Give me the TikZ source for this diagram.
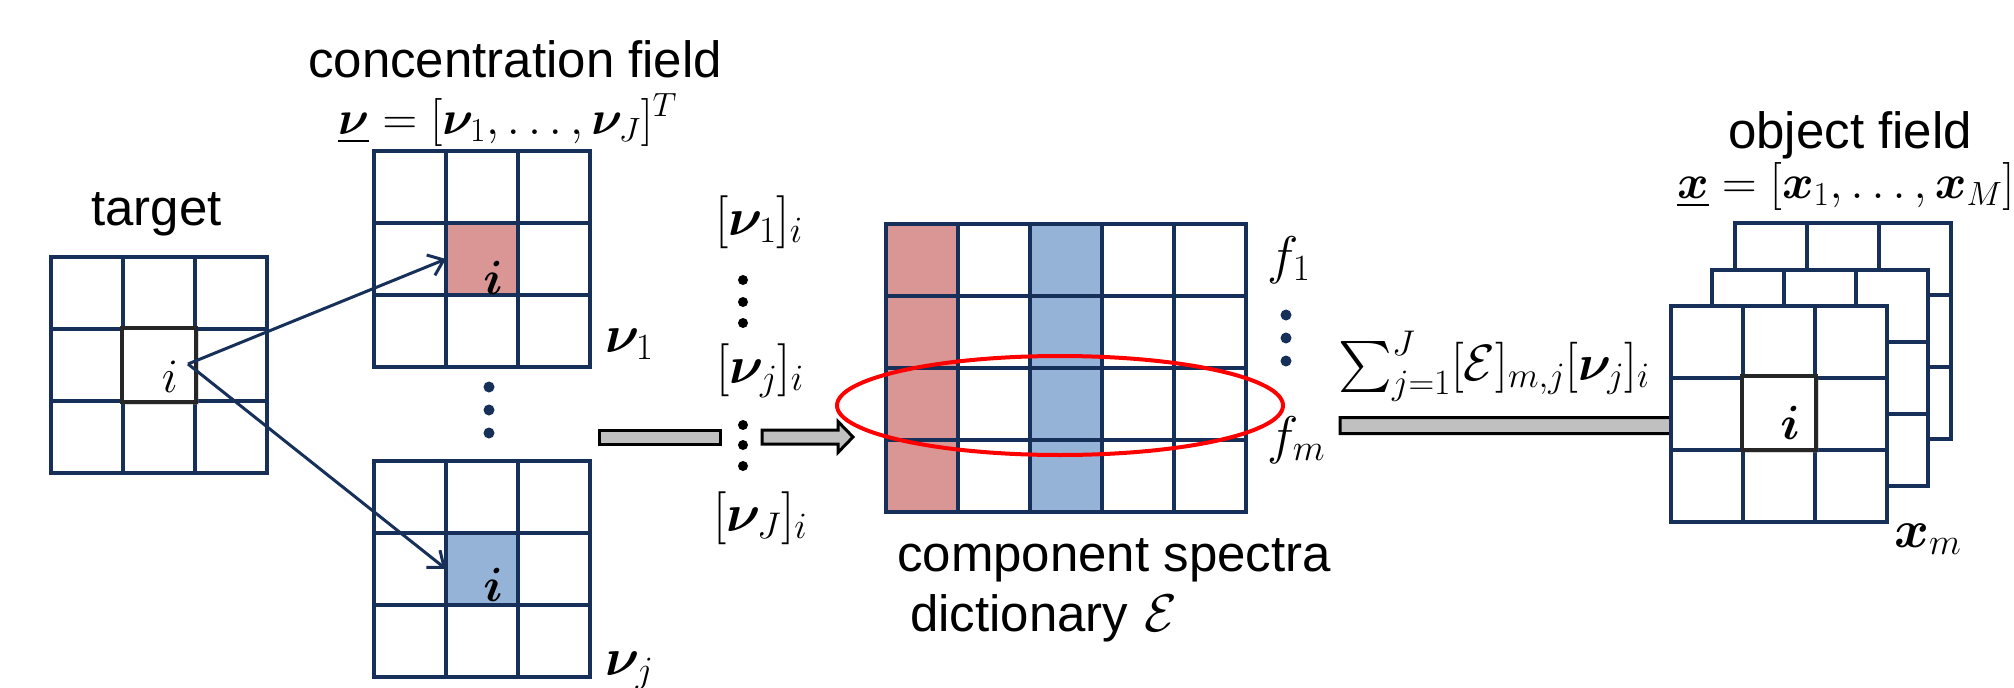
\RequirePackage{fix-cm}
\documentclass[tikz,border=0pt]{standalone}
\usepackage{amsmath,bm}
\usepackage[no-math]{fontspec}
\DeclareFontShape{OMX}{cmex}{m}{n}{<->cmex10}{}
\newfontfamily\arial{Liberation Sans}
\usetikzlibrary{arrows.meta,calc,shadows}
\definecolor{navy}{HTML}{17305A}
\definecolor{redf}{HTML}{D99694}
\definecolor{bluef}{HTML}{95B3D7}
\definecolor{grayf}{HTML}{C0C0C0}
\tikzset{
 gcell/.style={draw=navy, line width=3.2pt, minimum size=72pt, inner sep=0pt, outer sep=0pt},
 lbl/.style={font=\arial\fontsize{51}{60}\selectfont, inner sep=0pt, anchor=base west},
 mth/.style={font=\fontsize{53}{60}\selectfont, inner sep=0pt, anchor=base west},
 mths/.style={font=\fontsize{48}{56}\selectfont, inner sep=0pt, anchor=base west},
 ilbl/.style={font=\fontsize{48}{56}\selectfont, inner sep=0pt},
 conn/.style={draw=navy, line width=3pt, -{Straight Barb[length=14pt,width=22pt,line width=3pt]}},
 blk/.style={draw=black, line width=3pt, fill=grayf, line join=miter},
 hl/.style={draw=black!85, line width=4pt, minimum size=74pt, inner sep=0pt, fill=white,
   drop shadow={shadow xshift=3pt, shadow yshift=-3pt, opacity=0.3}},
 dotn/.style={circle, fill=navy, inner sep=0pt, minimum size=11pt},
}
\newcommand{\gridcells}[5]{%
  \foreach \r in {1,...,#5}{\foreach \c in {1,...,#4}{%
    \node[gcell] (#1-\r-\c) at ({#2+36+72*(\c-1)},{#3+36+72*(\r-1)}) {};}}}
\begin{document}
\begin{tikzpicture}[x=1pt,y=-1pt]
\useasboundingbox (0,0) rectangle (2014,688);
\fill[white] (0,0) rectangle (2014,688);

% ---- labels ----
\node[lbl] (tlab) at (91,225) {target};
\node[lbl] (cflab) at (308,77) {concentration field};
\node[lbl] (cslab) at (897,571) {component spectra};
\node[lbl] (dlab) at (910,631) {dictionary\hspace{16pt}{\fontsize{53}{60}\selectfont$\mathcal{E}$}};
\node[lbl] (oflab) at (1728,148) {object field};

% ---- target grid ----
\gridcells{t}{51}{257}{3}{3}
\node[hl] (thl) at (158.5,364.5) {};
\node[ilbl] (ti) at (170,377) {$i$};
\coordinate (tsrc) at (188,364);

% ---- concentration grids ----
\node[mths] (nuform) at (338,134) {$\underline{\bm{\nu}}=[\bm{\nu}_1,\ldots,\bm{\nu}_J]^T$};
\fill[redf] (446,223) rectangle (518,295);
\gridcells{nua}{374}{151}{3}{3}
\node[ilbl] (ri) at (493,278) {$\bm{i}$};
\node[mth] (nu1l) at (605,352) {$\bm{\nu}_1$};

\node[dotn] (gd1) at (489,387) {};
\node[dotn] (gd2) at (489,410) {};
\node[dotn] (gd3) at (489,433) {};

\fill[bluef] (446,533) rectangle (518,605);
\gridcells{nub}{374}{461}{3}{3}
\node[ilbl] (bi) at (493,585) {$\bm{i}$};
\node[mth] (nujl) at (605,675) {$\bm{\nu}_j$};

\draw[conn] (tsrc) -- (nua-2-2.west);
\draw[conn] (tsrc) -- (nub-2-2.west);

% ---- column of entries ----
\node[mth] (nu1i) at (715,235) {$[\bm{\nu}_1]_i$};
\node[mth] (nuji) at (716,383) {$[\bm{\nu}_j]_i$};
\node[mth] (nuJi) at (713,531) {$[\bm{\nu}_J]_i$};
\node[dotn, fill=black, minimum size=10pt] (cd1) at (743,280) {};
\node[dotn, fill=black, minimum size=10pt] (cd2) at (743,302) {};
\node[dotn, fill=black, minimum size=10pt] (cd3) at (743,323) {};
\node[dotn, fill=black, minimum size=10pt] (cd4) at (743,425) {};
\node[dotn, fill=black, minimum size=10pt] (cd5) at (743,445) {};
\node[dotn, fill=black, minimum size=10pt] (cd6) at (743,466) {};

% ---- block arrow 1 ----
\coordinate (a1s) at (599,437);
\coordinate (a1m) at (720,437);
\coordinate (a1r) at (762,437);
\coordinate (a1e) at (853,437);
\draw[blk] ($(a1s)+(0,-7)$) rectangle ($(a1m)+(0,7)$);
\draw[blk] ($(a1r)+(0,-7)$) -- ($(a1e)+(-15,-7)$) -- ($(a1e)+(-15,-15.5)$) -- (a1e)
  -- ($(a1e)+(-15,15.5)$) -- ($(a1e)+(-15,7)$) -- ($(a1r)+(0,7)$) -- cycle;

% ---- dictionary ----
\fill[redf] (886,224) rectangle (958,512);
\fill[bluef] (1030,224) rectangle (1102,512);
\gridcells{d}{886}{224}{5}{4}
\draw[red, line width=4pt] (1060,405.5) ellipse [x radius=223, y radius=49.5];
\node[mth] (f1) at (1267,273) {$f_1$};
\node[mth] (fm) at (1267,453) {$f_m$};
\node[dotn] (fd1) at (1286,315) {};
\node[dotn] (fd2) at (1286,338) {};
\node[dotn] (fd3) at (1286,361) {};

% ---- block arrow 2 ----
\node[mth, font=\fontsize{51}{60}\selectfont] (sum) at (1338,380) {$\sum_{j=1}^J[\mathcal{E}]_{m,j}[\bm{\nu}_j]_i$};
\coordinate (a2s) at (1340,425.5);
\coordinate (a2e) at (1725,425.5);
\draw[blk] ($(a2s)+(0,-8)$) -- ($(a2e)+(-17,-8)$) -- ($(a2e)+(-17,-16)$) -- (a2e)
  -- ($(a2e)+(-17,16)$) -- ($(a2e)+(-17,8)$) -- ($(a2s)+(0,8)$) -- cycle;

% ---- object field stack ----
\node[mths] (xform) at (1677,198) {$\underline{\bm{x}}=[\bm{x}_1,\ldots,\bm{x}_M]^T$};
\fill[white] (1735,223) rectangle (1951,439);
\gridcells{oc}{1735}{223}{3}{3}
\fill[white] (1712,270) rectangle (1928,486);
\gridcells{ob}{1712}{270}{3}{3}
\fill[white] (1671,306) rectangle (1887,522);
\gridcells{oa}{1671}{306}{3}{3}
\node[hl] (ohl) at (1778.5,412.5) {};
\node[ilbl] (oi) at (1790,423) {$\bm{i}$};
\node[mth] (xm) at (1894,547) {$\bm{x}_m$};
\end{tikzpicture}
\end{document}
